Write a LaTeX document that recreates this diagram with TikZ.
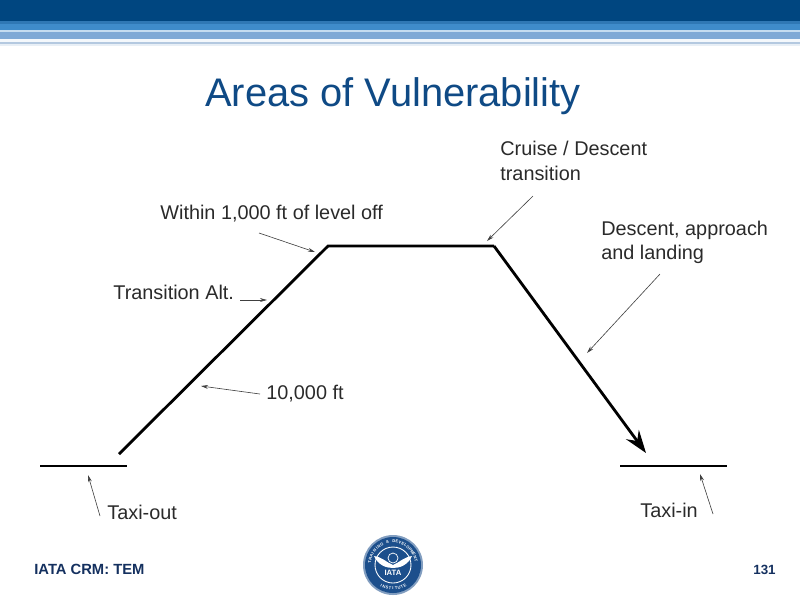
\documentclass[tikz,border=0pt]{standalone}
\usepackage{fontspec}
\setmainfont{Liberation Sans}
\usepackage{xcolor}
\usepackage{tikz}
\usetikzlibrary{arrows.meta, positioning}

\definecolor{headblue}{HTML}{004680}
\definecolor{titleblue}{HTML}{0F4A85}
\definecolor{footnavy}{HTML}{14305F}
\definecolor{labelgrey}{HTML}{2A2A2A}
\definecolor{sealblue}{HTML}{1C4F8C}

\tikzset{
  flightpath/.style={line width=1.6pt, black},
  groundline/.style={line width=1.6pt, black},
  callout/.style={line width=0.35pt, black!75, -{Stealth[length=4pt, width=2.2pt]}},
  areatext/.style={font=\fontsize{11.3}{13.8}\selectfont, text=labelgrey, align=left, inner sep=0pt},
  sealletter/.style={font=\bfseries\fontsize{2.3}{3}\selectfont, text=white, inner sep=0pt},
}

\begin{document}
\begin{tikzpicture}[x=0.02cm, y=-0.02cm]
  \useasboundingbox (0,0) rectangle (800,600);

  % header bands
  \fill[headblue] (0,0) rectangle (800,21);
  \foreach \ya/\yb/\bandcol in {21/24/2F78B5, 24/30/3F8CCB, 30/32/C5DCF0, 32/39/7FA9D6,
                                39/42/F4F8FC, 42/44/B4C9E0, 44/46/E8EFF6} {
    \definecolor{bandtmp}{HTML}{\bandcol}
    \fill[bandtmp] (0,\ya) rectangle (800,\yb);
  }

  \node[font=\fontsize{22.7}{26}\selectfont, text=titleblue, inner sep=0pt] (title) at (393,96) {Areas of Vulnerability};

  % flight profile
  \coordinate (climbstart) at (119,454);
  \coordinate (topclimb) at (328,246);
  \coordinate (topdescent) at (494,246);
  \coordinate (descentend) at (646,453);
  \draw[flightpath] (climbstart) -- (topclimb) -- (topdescent);
  \draw[flightpath, -{Stealth[length=13pt, width=9pt, inset=4.5pt]}] (topdescent) -- (descentend);

  \coordinate (outa) at (40,466);
  \coordinate (outb) at (127,466);
  \coordinate (ina) at (620,466);
  \coordinate (inb) at (727,466);
  \draw[groundline] (outa) -- (outb);
  \draw[groundline] (ina) -- (inb);

  % labels
  \node[areatext, anchor=west] (cruise) at (500,161) {Cruise / Descent\\transition};
  \node[areatext, anchor=west] (descent) at (601,242) {Descent, approach\\and landing};
  \node[areatext, anchor=west] (leveloff) at (160,214) {Within 1,000 ft of level off};
  \node[areatext, anchor=west] (transalt) at (113,292) {Transition Alt.};
  \node[areatext, anchor=west] (tenk) at (266,394) {10,000 ft};
  \node[areatext, anchor=west] (taxiout) at (107,512) {Taxi-out};
  \node[areatext, anchor=west] (taxiin) at (640,510) {Taxi-in};

  % callouts
  \coordinate (cruisefrom) at (533,196);
  \coordinate (cruiseto) at (487,241);
  \coordinate (descentfrom) at (660,274);
  \coordinate (descentto) at (587,353);
  \coordinate (levelfrom) at (259,233);
  \coordinate (levelto) at (315,252);
  \coordinate (transfrom) at (240,300);
  \coordinate (transto) at (267,300);
  \coordinate (tenkfrom) at (260,394);
  \coordinate (tenkto) at (201,386);
  \coordinate (outfrom) at (100,516);
  \coordinate (outto) at (88,475);
  \coordinate (infrom) at (713,514);
  \coordinate (into) at (700,474);
  \foreach \from/\to in {cruisefrom/cruiseto, descentfrom/descentto, levelfrom/levelto,
                         transfrom/transto, tenkfrom/tenkto, outfrom/outto, infrom/into} {
    \draw[callout] (\from) -- (\to);
  }

  % footer
  \node[font=\bfseries\fontsize{8.4}{10}\selectfont, text=footnavy, anchor=west, inner sep=0pt] (course) at (34,569) {IATA CRM: TEM};
  \node[font=\bfseries\fontsize{7.6}{8}\selectfont, text=footnavy, anchor=east, inner sep=0pt] (pagenum) at (776,570) {131};

  % seal
  \fill[sealblue!55] (393,565) circle (30);
  \fill[sealblue] (393,565) circle (28);
  \draw[white, line width=0.5pt] (393,565) circle (18);
  \fill[sealblue] (393,565) circle (16.5);
  \draw[white, line width=0.4pt] (393,558) circle (5);
  \fill[white] (374,556) .. controls (382,557) and (386,562) .. (393,565)
               .. controls (400,562) and (404,557) .. (412,556)
               .. controls (408,565) and (400,568) .. (393,568)
               .. controls (386,568) and (378,565) .. (374,556);
  \node[font=\bfseries\fontsize{4.4}{5}\selectfont, text=white, inner sep=0pt] (sealname) at (393,573) {IATA};
  \foreach \sealch [count=\i] in {T,R,A,I,N,I,N,G,{},\&,{},D,E,V,E,L,O,P,M,E,N,T} {
    \pgfmathsetmacro{\sealang}{172-(\i-1)*7.62}
    \node[sealletter, rotate=\sealang-90] at ({393+23.5*cos(\sealang)},{565-23.5*sin(\sealang)}) {\sealch};
  }
  \foreach \sealch [count=\i] in {I,N,S,T,I,T,U,T,E} {
    \pgfmathsetmacro{\sealang}{240+(\i-1)*7.5}
    \node[sealletter, rotate=\sealang+90] at ({393+23.5*cos(\sealang)},{565-23.5*sin(\sealang)}) {\sealch};
  }
\end{tikzpicture}
\end{document}
